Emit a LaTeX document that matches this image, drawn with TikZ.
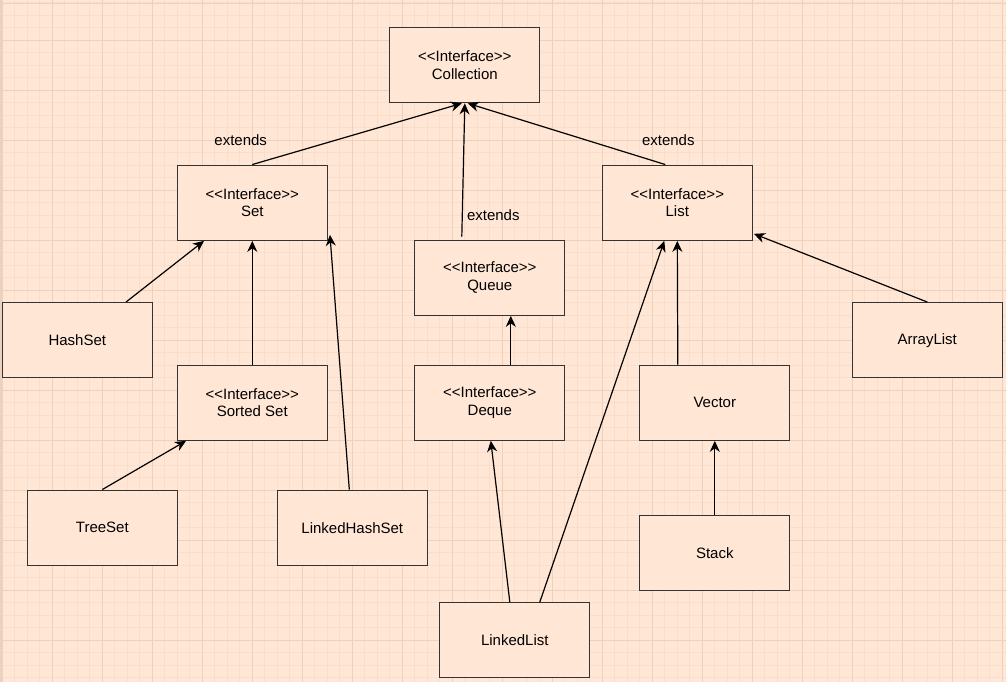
\documentclass[tikz,border=0pt]{standalone}
\usepackage{fontspec}
\setmainfont{Liberation Sans}[Ligatures=TeXOff]
\usetikzlibrary{arrows.meta}
\definecolor{bg}{HTML}{FFE6D5}
\definecolor{minorgrid}{HTML}{F8DFCD}
\definecolor{majorgrid}{HTML}{ECD1BD}
\definecolor{boxline}{HTML}{333333}
\tikzset{
  box/.style={draw=boxline, fill=bg, line width=1.3pt, minimum width=150pt, minimum height=75pt,
    inner sep=0pt, align=center, font=\fontsize{15}{17.5}\selectfont},
  lbl/.style={inner sep=0pt, font=\fontsize{15}{17.5}\selectfont},
  edge/.style={line width=1.2pt, -{Stealth[length=11pt,width=10pt,inset=3.5pt]}}
}
\begin{document}
\begin{tikzpicture}[x=1pt,y=-1pt]
    \fill[bg] (0,0) rectangle (1006,682);
    \useasboundingbox (0,0) rectangle (1006,682);
    \foreach \i in {0,...,80}
    \draw[minorgrid, line width=0.8pt] (2.3+12.5*\i,0)--(2.3+12.5*\i,682);
    \foreach \i in {0,...,54}
    \draw[minorgrid, line width=0.8pt] (0,2.7+12.5*\i)--(1006,2.7+12.5*\i);
    \foreach \i in {0,...,20}
    \draw[majorgrid, line width=0.8pt] (2.3+50*\i,0)--(2.3+50*\i,682);
    \foreach \i in {0,...,12}
    \draw[majorgrid, line width=0.8pt] (0,40.2+50*\i)--(1006,40.2+50*\i);
    \draw[majorgrid, line width=0.8pt] (0,3)--(1006,3);
    \fill[majorgrid] (0,0) rectangle (1.8,682);

    \node[box] (coll) at (464.8,65.2) {<<Interface>>\\Collection};
    \node[box] (set) at (252.3,202.7) {<<Interface>>\\Set};
    \node[box] (list) at (677.3,202.7) {<<Interface>>\\List};
    \node[box] (queue) at (489.8,277.7) {<<Interface>>\\Queue};
    \node[box] (hashset) at (77.3,340.2) {HashSet};
    \node[box] (sortedset) at (252.3,402.7) {<<Interface>>\\Sorted Set};
    \node[box] (deque) at (489.8,402.7) {<<Interface>>\\Deque};
    \node[box] (vector) at (714.8,402.7) {Vector};
    \node[box] (arraylist) at (927.3,340.2) {ArrayList};
    \node[box] (treeset) at (102.3,527.7) {TreeSet};
    \node[box] (lhset) at (352.3,527.7) {LinkedHashSet};
    \node[box] (stack) at (714.8,552.7) {Stack};
    \node[box] (llist) at (514.8,640.2) {LinkedList};

    \node[lbl] (extset) at (240.7,140) {extends};
    \node[lbl] (extlist) at (668.3,140) {extends};
    \node[lbl] (extqueue) at (493.3,215) {extends};

    \draw[edge] (set.north)--([xshift=-3pt]coll.south);
    \draw[edge] ([xshift=-28pt,yshift=3pt]queue.north)--(coll.south);
    \draw[edge] ([xshift=-12pt]list.north)--([xshift=3pt]coll.south);
    \draw[edge] ([xshift=48.7pt]hashset.north)--([xshift=-48.3pt]set.south);
    \draw[edge] (sortedset.north)--(set.south);
    \draw[edge] ([xshift=-3pt]lhset.north)--([xshift=2pt,yshift=6pt]set.south east);
    \draw[edge] (treeset.north)--([xshift=9.4pt]sortedset.south west);
    \draw[edge] ([xshift=21pt]deque.north)--([xshift=21pt]queue.south);
    \draw[edge] ([xshift=-5pt]llist.north)--([xshift=1pt]deque.south);
    \draw[edge] ([xshift=25pt]llist.north)--([xshift=-13pt]list.south);
    \draw[edge] ([xshift=-37pt]vector.north)--(list.south);
    \draw[edge] (stack.north)--(vector.south);
    \draw[edge] (arraylist.north)--([xshift=1pt,yshift=7pt]list.south east);
  \end{tikzpicture}
\end{document}
